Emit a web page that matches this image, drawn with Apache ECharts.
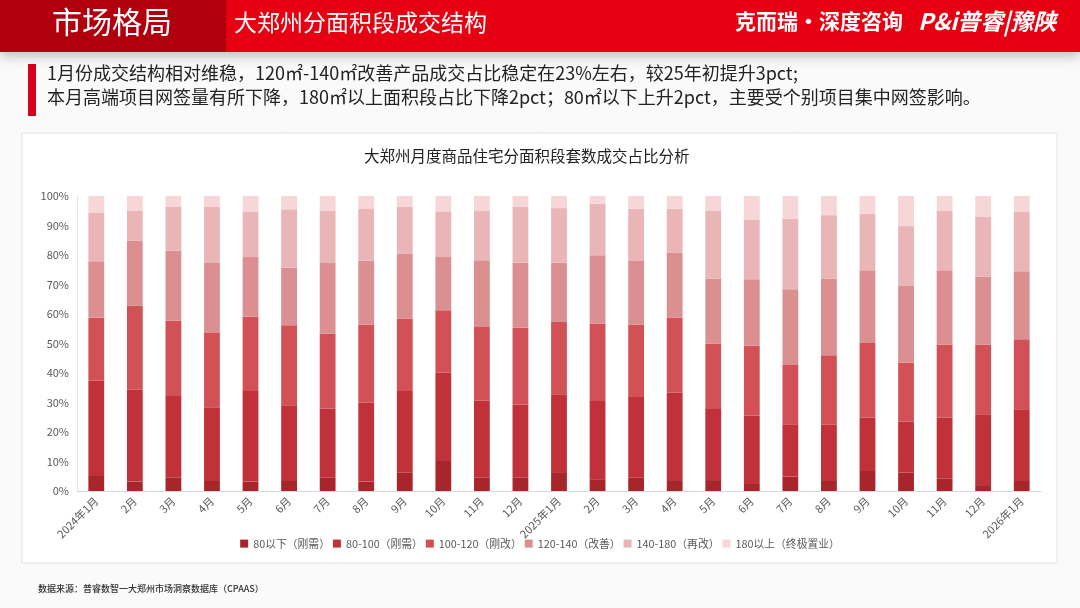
<!DOCTYPE html>
<html><head><meta charset="utf-8">
<script src="https://cdn.jsdelivr.net/npm/echarts@6/dist/echarts.min.js"></script>
<style>html,body{margin:0;padding:0;background:#fafafa;}#c{width:1080px;height:608px;}</style>
</head><body><div id="c"></div>
<script>
const categories = ['2024年1月','2月','3月','4月','5月','6月','7月','8月','9月','10月','11月','12月','2025年1月','2月','3月','4月','5月','6月','7月','8月','9月','10月','11月','12月','2026年1月'];
const seriesNames = ['80以下（刚需）','80-100（刚需）','100-120（刚改）','120-140（改善）','140-180（再改）','180以上（终极置业）'];
const s80 =     [5.4,3.2,4.5,3.4,3.2,3.7,4.5,3.2,6.2,10.2,4.5,4.5,6.4,4.0,4.5,3.7,3.7,2.4,4.9,3.7,6.8,6.3,4.3,2.0,3.4];
const s80_100 = [32.0,31.1,27.7,25.0,30.7,25.4,23.5,26.7,27.7,29.9,26.1,24.8,26.4,26.5,27.4,29.7,24.1,23.2,17.7,18.9,18.0,17.2,20.5,24.0,24.3];
const s100_120 =[21.3,28.6,25.5,25.2,25.2,27.1,25.4,26.5,24.6,21.2,25.0,26.0,24.5,26.3,24.5,25.4,22.2,23.6,20.1,23.4,25.4,20.0,24.9,23.7,23.7];
const s120_140 =[19.2,22.0,23.7,23.7,20.2,19.5,23.9,21.7,22.0,18.0,22.6,22.1,20.1,23.1,21.6,21.9,22.0,22.6,25.7,25.9,24.6,26.0,25.1,22.9,23.1];
const s140_180 =[16.5,10.2,14.9,19.0,15.3,19.8,17.8,17.5,15.8,15.5,16.9,18.9,18.5,17.5,17.7,15.0,23.1,20.2,23.9,21.6,19.2,20.3,20.3,20.3,20.1];
const s180 =    [5.6,4.9,3.7,3.7,5.4,4.5,4.9,4.4,3.7,5.2,4.9,3.7,4.1,2.6,4.3,4.3,4.9,8.0,7.7,6.5,6.0,10.2,4.9,7.1,5.4];
const yTicks = [0,10,20,30,40,50,60,70,80,90,100];

const dataSets = [s80,s80_100,s100_120,s120_140,s140_180,s180];
const colors = ['#A8262B','#C1313A','#D25157','#DC8F91','#E9B5B7','#F6D6D7'];
const FONT = '"Noto Sans CJK SC","Noto Sans",sans-serif';

const chart = echarts.init(document.getElementById('c'));
chart.setOption({
  backgroundColor: '#fafafa',
  textStyle: {fontFamily: FONT},
  graphic: [
    {type:'rect', z:0, shape:{x:22,y:133,width:1035,height:430}, style:{fill:'#ffffff',stroke:'#e2e2e2',lineWidth:1}},
    {type:'rect', z:10, shape:{x:0,y:0,width:1080,height:52}, style:{fill:'#E60012', shadowBlur:12, shadowColor:'rgba(0,0,0,0.25)', shadowOffsetY:4}},
    {type:'rect', z:11, shape:{x:0,y:0,width:226,height:52}, style:{fill:'#B0000E'}},
    {type:'text', z:12, left:52, top:7, style:{text:'市场格局', fill:'#fff', font:'normal 30px '+FONT}},
    {type:'text', z:12, left:234, top:11, style:{text:'大郑州分面积段成交结构', fill:'#fff', font:'23px '+FONT}},
    {type:'text', z:12, left:735, top:11, style:{text:'克而瑞·深度咨询', fill:'#fff', font:'bold 21px '+FONT}},
    {type:'text', z:12, left:918, top:10, style:{text:'P&i普睿|豫陕', fill:'#fff', font:'italic bold 23px '+FONT}},
    {type:'rect', z:5, shape:{x:28,y:64,width:8,height:52}, style:{fill:'#D9001B'}},
    {type:'text', z:5, left:47, top:64, style:{text:'1月份成交结构相对维稳，120㎡-140㎡改善产品成交占比稳定在23%左右，较25年初提升3pct;', fill:'#222', font:'18px '+FONT}},
    {type:'text', z:5, left:47, top:88, style:{text:'本月高端项目网签量有所下降，180㎡以上面积段占比下降2pct；80㎡以下上升2pct，主要受个别项目集中网签影响。', fill:'#222', font:'18px '+FONT}},
    {type:'text', z:5, left:38, top:584, style:{text:'数据来源：普睿数智一大郑州市场洞察数据库（CPAAS）', fill:'#333', font:'500 9px '+FONT}}
  ],
  title: {
    text: '大郑州月度商品住宅分面积段套数成交占比分析',
    left: 359, top: 143,
    textStyle: {fontSize: 15.5, fontWeight: 'normal', color: '#222', fontFamily: FONT}
  },
  legend: {
    bottom: 54, left: 'center',
    itemWidth: 8, itemHeight: 8, itemGap: 3,
    icon: 'rect',
    textStyle: {fontSize: 10.8, color: '#595959', fontFamily: FONT},
    data: seriesNames
  },
  grid: {left: 77, right: 39, top: 196, bottom: 117, containLabel: false},
  xAxis: {
    type: 'category', data: categories,
    axisLine: {lineStyle: {color: '#d9d9d9'}},
    axisTick: {show: false},
    axisLabel: {rotate: 45, fontSize: 11, color: '#595959', interval: 0, margin: 8, fontFamily: FONT}
  },
  yAxis: {
    type: 'value', min: 0, max: 100, interval: 10,
    axisLine: {show: true, lineStyle: {color: '#e6e6e6'}},
    axisTick: {show: false},
    splitLine: {show: false},
    axisLabel: {formatter: v => yTicks.includes(v) ? v + '%' : '', fontSize: 11, color: '#595959', fontFamily: FONT}
  },
  series: dataSets.map((d, i) => ({
    name: seriesNames[i], type: 'bar', stack: 'total', data: d,
    barWidth: '41%',
    itemStyle: {color: colors[i]},
    emphasis: {disabled: true}
  }))
});
</script></body></html>
